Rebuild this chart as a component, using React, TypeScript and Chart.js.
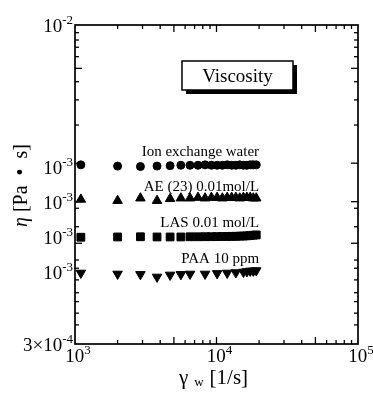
import React, { useEffect, useRef } from "react";
import { Chart, registerables } from "chart.js";

Chart.register(...registerables);

const FONT = "'Liberation Serif', 'Times New Roman', Times, serif";

// shear rate γw [1/s]
const shearRates = [1100, 2000, 2900, 3800, 4700, 5600, 6500, 7400, 8300, 9200, 10100, 11000, 11900, 12800, 13700, 14600, 15500, 16400, 17300, 18200, 19100];
// viscosity η [Pa·s] (as plotted)
const ionWater = [2.15e-3, 2.12e-3, 2.11e-3, 2.12e-3, 2.13e-3, 2.14e-3, 2.14e-3, 2.14e-3, 2.15e-3, 2.14e-3, 2.14e-3, 2.14e-3, 2.15e-3, 2.14e-3, 2.14e-3, 2.15e-3, 2.14e-3, 2.14e-3, 2.15e-3, 2.15e-3, 2.15e-3];
const ae23 = [1.47e-3, 1.45e-3, 1.49e-3, 1.45e-3, 1.48e-3, 1.49e-3, 1.49e-3, 1.5e-3, 1.49e-3, 1.5e-3, 1.5e-3, 1.49e-3, 1.5e-3, 1.5e-3, 1.5e-3, 1.49e-3, 1.5e-3, 1.5e-3, 1.5e-3, 1.49e-3, 1.49e-3];
const las = [9.7e-4, 9.73e-4, 9.75e-4, 9.73e-4, 9.73e-4, 9.73e-4, 9.75e-4, 9.75e-4, 9.76e-4, 9.76e-4, 9.77e-4, 9.78e-4, 9.78e-4, 9.8e-4, 9.8e-4, 9.82e-4, 9.83e-4, 9.85e-4, 9.88e-4, 9.92e-4, 9.95e-4];
const paaShearRates = [1100, 2000, 2900, 3800, 4700, 5600, 6500, 8300, 10100, 11900, 13700, 15500, 16400, 17300, 18200, 19100];
const paa = [6.55e-4, 6.48e-4, 6.45e-4, 6.27e-4, 6.41e-4, 6.45e-4, 6.48e-4, 6.48e-4, 6.52e-4, 6.55e-4, 6.58e-4, 6.62e-4, 6.66e-4, 6.7e-4, 6.7e-4, 6.73e-4];

const seriesNames = ["Ion exchange water", "AE (23) 0.01mol/L", "LAS 0.01 mol/L", "PAA 10 ppm"];
const seriesLabelRate = 20000;
const seriesLabelEta = [2.37e-3, 1.613e-3, 1.086e-3, 7.31e-4];

const xTickLabelValues = [1e3, 1e4, 1e5];
const xTickLabelExps = ["3", "4", "5"];
const xMinorTicks = [2000, 3000, 4000, 6000, 7000, 8000, 9000, 20000, 30000, 40000, 60000, 70000, 80000, 90000];
const xLongTicks = [5000, 10000, 50000];

const yTickLabelValues = [1e-2, 2.1e-3, 1.43e-3, 9.68e-4, 6.62e-4, 3e-4];
const yTickLabelBases = ["10", "10", "10", "10", "10", "3×10"];
const yTickLabelExps = ["-2", "-3", "-3", "-3", "-3", "-4"];
const yMinorTicks = [9.19e-3, 8.48e-3, 7.83e-3, 7.06e-3, 5.36e-3, 4.39e-3, 3.33e-3, 1.334e-3, 1.089e-3, 7.55e-4, 6.9e-4, 6.07e-4, 5.27e-4, 4.78e-4, 4.21e-4, 3.7e-4];
const yLongTicks = [6.21e-3, 2.19e-3, 1.434e-3, 9.08e-4];

const titleText = "Viscosity";

function drawPow(ctx: CanvasRenderingContext2D, base: string, exp: string, x: number, y: number, align: string) {
  const bf = `19px ${FONT}`;
  const ef = `13px ${FONT}`;
  ctx.font = bf;
  const wb = ctx.measureText(base).width;
  ctx.font = ef;
  const we = ctx.measureText(exp).width;
  const total = wb + we;
  const x0 = align === "right" ? x - total : align === "center" ? x - total / 2 : x;
  ctx.textAlign = "left";
  ctx.textBaseline = "alphabetic";
  ctx.font = bf;
  ctx.fillText(base, x0, y);
  ctx.font = ef;
  ctx.fillText(exp, x0 + wb, y - 8);
}

const decorPlugin = {
  id: "decor",
  afterDatasetsDraw(chart: any) {
    const { ctx, chartArea: a, scales } = chart;
    const xs = scales.x;
    const ys = scales.y;
    ctx.save();
    ctx.strokeStyle = "#000";
    ctx.fillStyle = "#000";
    const line = (x1: number, y1: number, x2: number, y2: number) => {
      ctx.beginPath();
      ctx.moveTo(x1, y1);
      ctx.lineTo(x2, y2);
      ctx.stroke();
    };
    // ticks
    ctx.lineWidth = 1.3;
    const xt = (v: number, len: number) => {
      const px = xs.getPixelForValue(v);
      line(px, a.bottom, px, a.bottom - len);
      line(px, a.top, px, a.top + len);
    };
    xMinorTicks.forEach((v) => xt(v, 4));
    xLongTicks.forEach((v) => xt(v, 7));
    const yt = (v: number, len: number) => {
      const py = ys.getPixelForValue(v);
      line(a.left, py, a.left + len, py);
      line(a.right, py, a.right - len, py);
    };
    yMinorTicks.forEach((v) => yt(v, 4));
    yLongTicks.forEach((v) => yt(v, 7));
    // frame
    ctx.lineWidth = 1.7;
    ctx.strokeRect(a.left, a.top, a.right - a.left, a.bottom - a.top);

    // tick labels
    xTickLabelValues.forEach((v, i) => {
      drawPow(ctx, "10", xTickLabelExps[i], xs.getPixelForValue(v) + 3, a.bottom + 18, "center");
    });
    yTickLabelValues.forEach((v, i) => {
      drawPow(ctx, yTickLabelBases[i], yTickLabelExps[i], a.left - 2, ys.getPixelForValue(v) + 7, "right");
    });

    // series labels
    ctx.font = `15px ${FONT}`;
    ctx.textAlign = "right";
    ctx.textBaseline = "alphabetic";
    seriesNames.forEach((n, i) => {
      ctx.fillText(n, xs.getPixelForValue(seriesLabelRate), ys.getPixelForValue(seriesLabelEta[i]));
    });

    // Viscosity box
    const bx = a.left + 107;
    const by = a.top + 36;
    const bw = 111;
    const bh = 29;
    ctx.fillRect(bx + 4, by + 4, bw, bh);
    ctx.fillStyle = "#fff";
    ctx.fillRect(bx, by, bw, bh);
    ctx.fillStyle = "#000";
    ctx.lineWidth = 1.5;
    ctx.strokeRect(bx, by, bw, bh);
    ctx.font = `19px ${FONT}`;
    ctx.textAlign = "center";
    ctx.fillText(titleText, bx + bw / 2, by + 21);

    // x axis title: γ w [1/s]
    const cx = (a.left + a.right) / 2 - 3;
    const tby = a.bottom + 40;
    ctx.textAlign = "left";
    ctx.font = `21px ${FONT}`;
    const wg = ctx.measureText("γ").width;
    const wsp = 6;
    ctx.font = `13px ${FONT}`;
    const ww = ctx.measureText("w").width;
    ctx.font = `21px ${FONT}`;
    const wu = ctx.measureText("[1/s]").width;
    const tot = wg + wsp + ww + 6 + wu;
    let sx = cx - tot / 2;
    ctx.fillText("γ", sx, tby);
    sx += wg + wsp;
    ctx.font = `13px ${FONT}`;
    ctx.fillText("w", sx, tby + 2);
    sx += ww + 6;
    ctx.font = `21px ${FONT}`;
    ctx.fillText("[1/s]", sx, tby);

    // y axis title: η [Pa • s]
    ctx.save();
    ctx.translate(27, (a.top + a.bottom) / 2 + 1);
    ctx.rotate(-Math.PI / 2);
    ctx.font = `italic 20px ${FONT}`;
    const we = ctx.measureText("η").width;
    ctx.font = `20px ${FONT}`;
    const wr = ctx.measureText("[Pa  •  s]").width;
    const tt = we + 5 + wr;
    let rx = -tt / 2;
    ctx.font = `italic 20px ${FONT}`;
    ctx.fillText("η", rx, 0);
    rx += we + 5;
    ctx.font = `20px ${FONT}`;
    ctx.fillText("[Pa  •  s]", rx, 0);
    ctx.restore();

    ctx.restore();
  },
};

export default function App() {
  const ref = useRef<HTMLCanvasElement | null>(null);
  useEffect(() => {
    if (!ref.current) return;
    const mk = (xs: number[], ys: number[]) => xs.map((x, i) => ({ x, y: ys[i] }));
    const common = {
      backgroundColor: "#000",
      borderColor: "#000",
      borderWidth: 1,
      showLine: false,
    };
    const chart = new Chart(ref.current, {
      type: "scatter",
      data: {
        datasets: [
          { ...common, label: seriesNames[0], data: mk(shearRates, ionWater), pointStyle: "circle", pointRadius: 4 },
          { ...common, label: seriesNames[1], data: mk(shearRates, ae23), pointStyle: "triangle", pointRadius: 5.5 },
          { ...common, label: seriesNames[2], data: mk(shearRates, las), pointStyle: "rect", pointRadius: 5.5 },
          { ...common, label: seriesNames[3], data: mk(paaShearRates, paa), pointStyle: "triangle", pointRotation: 180, pointRadius: 5.5 },
        ],
      } as any,
      options: {
        responsive: false,
        animation: false,
        devicePixelRatio: 1,
        layout: { padding: { left: 75, top: 25, right: 15, bottom: 53 } },
        plugins: { legend: { display: false }, tooltip: { enabled: false } },
        scales: {
          x: { type: "logarithmic", min: 1000, max: 100000, display: false },
          y: { type: "logarithmic", min: 3e-4, max: 1e-2, display: false },
        },
      } as any,
      plugins: [decorPlugin],
    });
    return () => chart.destroy();
  }, []);
  return (
    <div style={{ position: "fixed", left: 0, top: 0, width: 373, height: 397, background: "#fff" }}>
      <canvas ref={ref} width={373} height={397} style={{ display: "block", width: 373, height: 397 }} />
    </div>
  );
}
